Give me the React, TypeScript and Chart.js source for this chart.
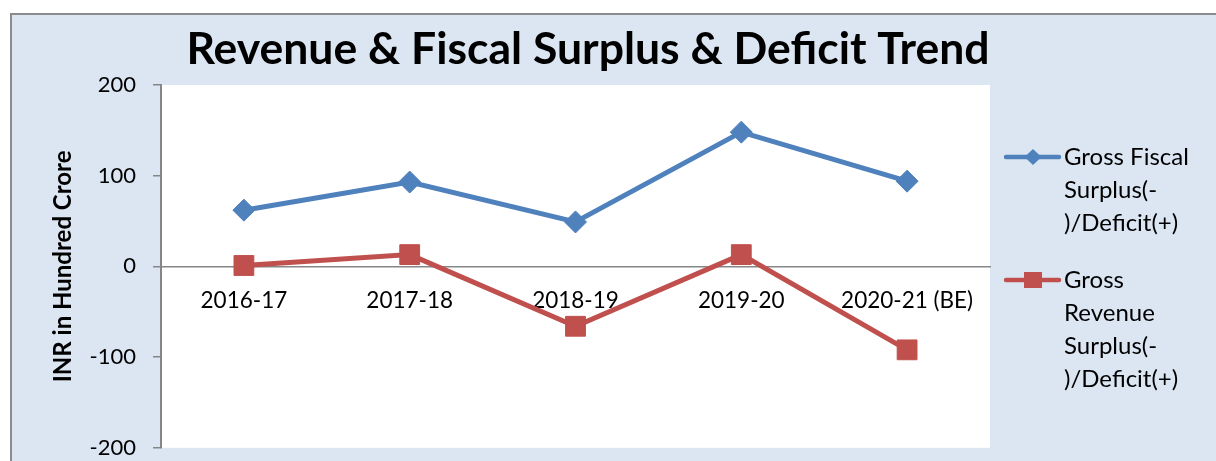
import React, { useEffect, useRef } from "react";
import { Chart, registerables } from "chart.js";

Chart.register(...registerables);

const categories = ["2016-17", "2017-18", "2018-19", "2019-20", "2020-21 (BE)"];
const fiscalValues = [62, 93, 49, 148, 94];
const revenueValues = [1, 13, -66, 13, -92];
const yTicks = [-200, -100, 0, 100, 200];
const titleText = "Revenue & Fiscal Surplus & Deficit Trend";
const yTitle = "INR in Hundred Crore";
const fiscalLabel = ["Gross Fiscal", "Surplus(-", ")/Deficit(+)"];
const revenueLabel = ["Gross", "Revenue", "Surplus(-", ")/Deficit(+)"];

const BLUE = "#4f81bd";
const RED = "#c0504d";
const GRID = "#868686";
const FONT = "Lato, 'Open Sans', sans-serif";

const W = 1203;
const H = 463;

const decorPlugin = {
  id: "decor",
  beforeDraw(chart: any) {
    const ctx = chart.ctx as CanvasRenderingContext2D;
    const a = chart.chartArea;
    ctx.save();
    ctx.fillStyle = "#ffffff";
    ctx.fillRect(a.left, a.top, a.right - a.left, a.bottom - a.top);
    ctx.restore();
  },
  afterDraw(chart: any) {
    const ctx = chart.ctx as CanvasRenderingContext2D;
    ctx.save();
    // title
    ctx.fillStyle = "#000";
    ctx.font = `bold 44.5px ${FONT}`;
    ctx.textAlign = "center";
    ctx.textBaseline = "alphabetic";
    ctx.fillText(titleText, 576, 49);

    // legend
    const items = [
      { label: fiscalLabel, color: BLUE, style: "diamond", y: 142 },
      { label: revenueLabel, color: RED, style: "square", y: 265 },
    ];
    ctx.font = `24px ${FONT}`;
    ctx.textAlign = "left";
    ctx.textBaseline = "middle";
    for (const it of items) {
      ctx.strokeStyle = it.color;
      ctx.lineWidth = 4.5;
      ctx.lineCap = "round";
      ctx.beginPath();
      ctx.moveTo(994, it.y);
      ctx.lineTo(1047, it.y);
      ctx.stroke();
      ctx.fillStyle = it.color;
      const cx = 1021;
      if (it.style === "diamond") {
        ctx.beginPath();
        ctx.moveTo(cx, it.y - 8);
        ctx.lineTo(cx + 8.5, it.y);
        ctx.lineTo(cx, it.y + 8);
        ctx.lineTo(cx - 8.5, it.y);
        ctx.closePath();
        ctx.fill();
      } else {
        ctx.fillRect(cx - 9, it.y - 8, 18, 16);
      }
      ctx.fillStyle = "#000";
      it.label.forEach((t, i) => ctx.fillText(t, 1052, it.y + i * 33));
    }
    ctx.restore();
  },
};

export default function App() {
  const ref = useRef<HTMLCanvasElement>(null);
  useEffect(() => {
    if (!ref.current) return;
    const chart = new Chart(ref.current, {
      type: "line",
      data: {
        labels: categories,
        datasets: [
          {
            label: fiscalLabel.join(" "),
            data: fiscalValues,
            borderColor: BLUE,
            backgroundColor: BLUE,
            borderWidth: 5,
            pointStyle: "rectRot",
            pointRadius: 11,
            pointBorderWidth: 1,
            tension: 0,
          },
          {
            label: revenueLabel.join(" "),
            data: revenueValues,
            borderColor: RED,
            backgroundColor: RED,
            borderWidth: 5,
            pointStyle: "rect",
            pointRadius: 14,
            pointBorderWidth: 1,
            tension: 0,
          },
        ],
      },
      options: {
        responsive: false,
        animation: false,
        layout: { padding: { top: 70, right: 225, bottom: 14, left: 0 } },
        plugins: {
          legend: { display: false },
          title: { display: false },
          tooltip: { enabled: false },
        },
        scales: {
          x: {
            type: "category",
            offset: true,
            position: { y: 0 } as any,
            grid: { display: false },
            border: { display: true, color: GRID, width: 1.5 },
            ticks: {
              color: "#000",
              font: { family: FONT, size: 22.5 },
              padding: 13,
              maxRotation: 0,
              autoSkip: false,
            },
          },
          y: {
            min: -200,
            max: 200,
            afterBuildTicks: (s: any) => {
              s.ticks = yTicks.map((v) => ({ value: v }));
            },
            afterFit: (s: any) => {
              s.width = 149;
            },
            grid: {
              drawOnChartArea: false,
              drawTicks: true,
              tickLength: 8,
              color: GRID,
              lineWidth: 1.5,
            },
            border: { display: true, color: GRID, width: 2 },
            ticks: {
              color: "#000",
              font: { family: FONT, size: 22 },
              padding: 17,
            },
            title: {
              display: true,
              text: yTitle,
              color: "#000",
              font: { family: FONT, size: 24, weight: "bold" },
              padding: { top: 37, bottom: 0 },
            },
          },
        },
      },
      plugins: [decorPlugin],
    });
    return () => chart.destroy();
  }, []);

  return (
    <div style={{ position: "fixed", inset: 0, overflow: "hidden", background: "#fff" }}>
      <div
        style={{
          position: "absolute",
          left: 10,
          top: 13,
          width: 1240,
          height: 480,
          background: "#dce6f2",
          border: "2px solid #8c8c8c",
        }}
      >
        <canvas ref={ref} width={W} height={H} style={{ position: "absolute", left: 0, top: 0, width: W, height: H }} />
      </div>
    </div>
  );
}
